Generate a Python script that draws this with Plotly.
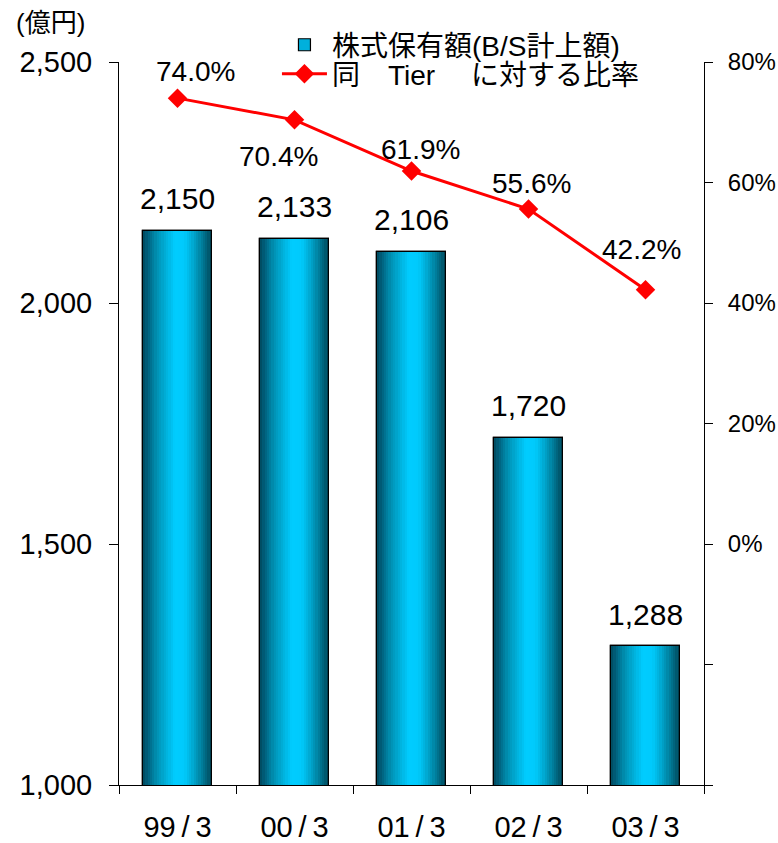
import plotly.graph_objects as go

# ---- data ----
categories = ["99/3", "00/3", "01/3", "02/3", "03/3"]
holdings = [2150, 2133, 2106, 1720, 1288]          # 株式保有額 (億円)
ratio = [74.0, 70.4, 61.9, 55.6, 42.2]             # 同 Tier に対する比率 (%)
left_ticks = [1000, 1500, 2000, 2500]
right_ticks = [-40, -20, 0, 20, 40, 60, 80]
right_ticktext = ["", "", "0%", "20%", "40%", "60%", "80%"]
x_ticktext = [c.replace("/", "\u2009/\u2009") for c in categories]

# ---- style ----
FONT = "Liberation Sans, Arial, Noto Sans CJK JP"
BAR_W = 0.59
N_STRIPES = 30
stops = [(0.0, (0x00, 0x48, 0x5c)), (0.06, (0x00, 0x5e, 0x7a)),
         (0.20, (0x00, 0x90, 0xb2)), (0.36, (0x00, 0xb6, 0xe2)),
         (0.46, (0x00, 0xcc, 0xff)), (0.60, (0x00, 0xca, 0xfc)),
         (0.70, (0x00, 0xb0, 0xda)), (0.82, (0x00, 0x88, 0xa8)),
         (0.93, (0x00, 0x60, 0x78)), (1.0, (0x00, 0x46, 0x58))]


def grad(t):
    for (t0, c0), (t1, c1) in zip(stops[:-1], stops[1:]):
        if t0 <= t <= t1:
            f = (t - t0) / (t1 - t0) if t1 > t0 else 0
            return "rgb(%d,%d,%d)" % tuple(round(a + (b - a) * f) for a, b in zip(c0, c1))
    return "rgb(0,70,88)"


fig = go.Figure()

# base bar (legend entry)
fig.add_trace(go.Bar(
    x=categories, y=holdings, width=BAR_W, name="株式保有額(B/S計上額)",
    marker=dict(color="#00b0dc", line=dict(color="black", width=1.2)),
    hoverinfo="skip", showlegend=True, legend="legend", yaxis="y"))

# gradient stripes
sw = BAR_W / N_STRIPES
for i in range(N_STRIPES):
    t = (i + 0.5) / N_STRIPES
    w = min(sw * 1.6, BAR_W - i * sw)
    fig.add_trace(go.Bar(
        x=categories, y=holdings, width=w, offset=-BAR_W / 2 + i * sw,
        marker=dict(color=grad(t), line=dict(width=0)),
        showlegend=False, hoverinfo="skip", yaxis="y"))

# outline on top
fig.add_trace(go.Bar(
    x=categories, y=holdings, width=BAR_W,
    marker=dict(color="rgba(0,0,0,0)", line=dict(color="black", width=1.2)),
    showlegend=False, hoverinfo="skip", yaxis="y"))

# ratio line
fig.add_trace(go.Scatter(
    x=categories, y=ratio, yaxis="y2", mode="lines+markers",
    name="同　Tier　 に対する比率", legend="legend2",
    line=dict(color="#ff0000", width=3),
    marker=dict(symbol="diamond", size=15, color="#ff0000"),
    hoverinfo="skip"))

annotations = []
for c, v in zip(categories, holdings):
    annotations.append(dict(x=c, y=v, xref="x", yref="y", text=f"{v:,}", showarrow=False,
                            yanchor="middle", yshift=32,
                            font=dict(family=FONT, size=30, color="black")))

label_shifts = [(18, 27), (-16, -37), (9, 22), (3, 26), (-4, 40)]
for c, v, (dx, dy) in zip(categories, ratio, label_shifts):
    annotations.append(dict(x=c, y=v, xref="x", yref="y2", text=f"{v:.1f}%", showarrow=False,
                            yanchor="middle", xshift=dx, yshift=dy,
                            font=dict(family=FONT, size=28, color="black")))

annotations.append(dict(x=-0.18, y=1.054, xref="paper", yref="paper", text="(億円)",
                        showarrow=False, xanchor="left", yanchor="middle",
                        font=dict(family=FONT, size=26, color="black")))

legend_style = dict(xanchor="left", yanchor="top", bgcolor="rgba(0,0,0,0)",
                    font=dict(family=FONT, size=28, color="black"), itemwidth=45)

fig.update_layout(
    width=778, height=843,
    margin=dict(l=119, r=74, t=62, b=58, pad=0, autoexpand=False),
    paper_bgcolor="white", plot_bgcolor="white",
    barmode="overlay", bargap=0,
    font=dict(family=FONT, color="black"),
    showlegend=True,
    legend=dict(x=0.27, y=1.058, **legend_style),
    legend2=dict(x=0.27, y=1.018, **legend_style),
    xaxis=dict(type="category", categoryorder="array", categoryarray=categories,
               tickmode="array", tickvals=categories, ticktext=x_ticktext,
               range=[-0.5, 4.5], showline=True, linecolor="black", linewidth=1,
               ticks="outside", ticklen=8, tickcolor="black", tickson="boundaries",
               showgrid=False, zeroline=False, tickfont=dict(family=FONT, size=29),
               ticklabelstandoff=16, automargin=False),
    yaxis=dict(range=[1000, 2500], tickvals=left_ticks, tickformat=",",
               showline=True, linecolor="black", linewidth=1, ticks="outside", ticklen=9,
               tickcolor="black", showgrid=False, zeroline=False,
               tickfont=dict(family=FONT, size=29), ticklabelstandoff=11, automargin=False),
    yaxis2=dict(overlaying="y", side="right", range=[-40, 80], tickvals=right_ticks,
                ticktext=right_ticktext, showline=True, linecolor="black", linewidth=1,
                ticks="outside", ticklen=8, tickcolor="black", showgrid=False, zeroline=False,
                tickfont=dict(family=FONT, size=24), ticklabelstandoff=10, automargin=False,
                anchor="x"),
    annotations=annotations,
)

fig.write_html("out.html", config={"displayModeBar": False},
               post_script="document.body.style.margin='0';")
